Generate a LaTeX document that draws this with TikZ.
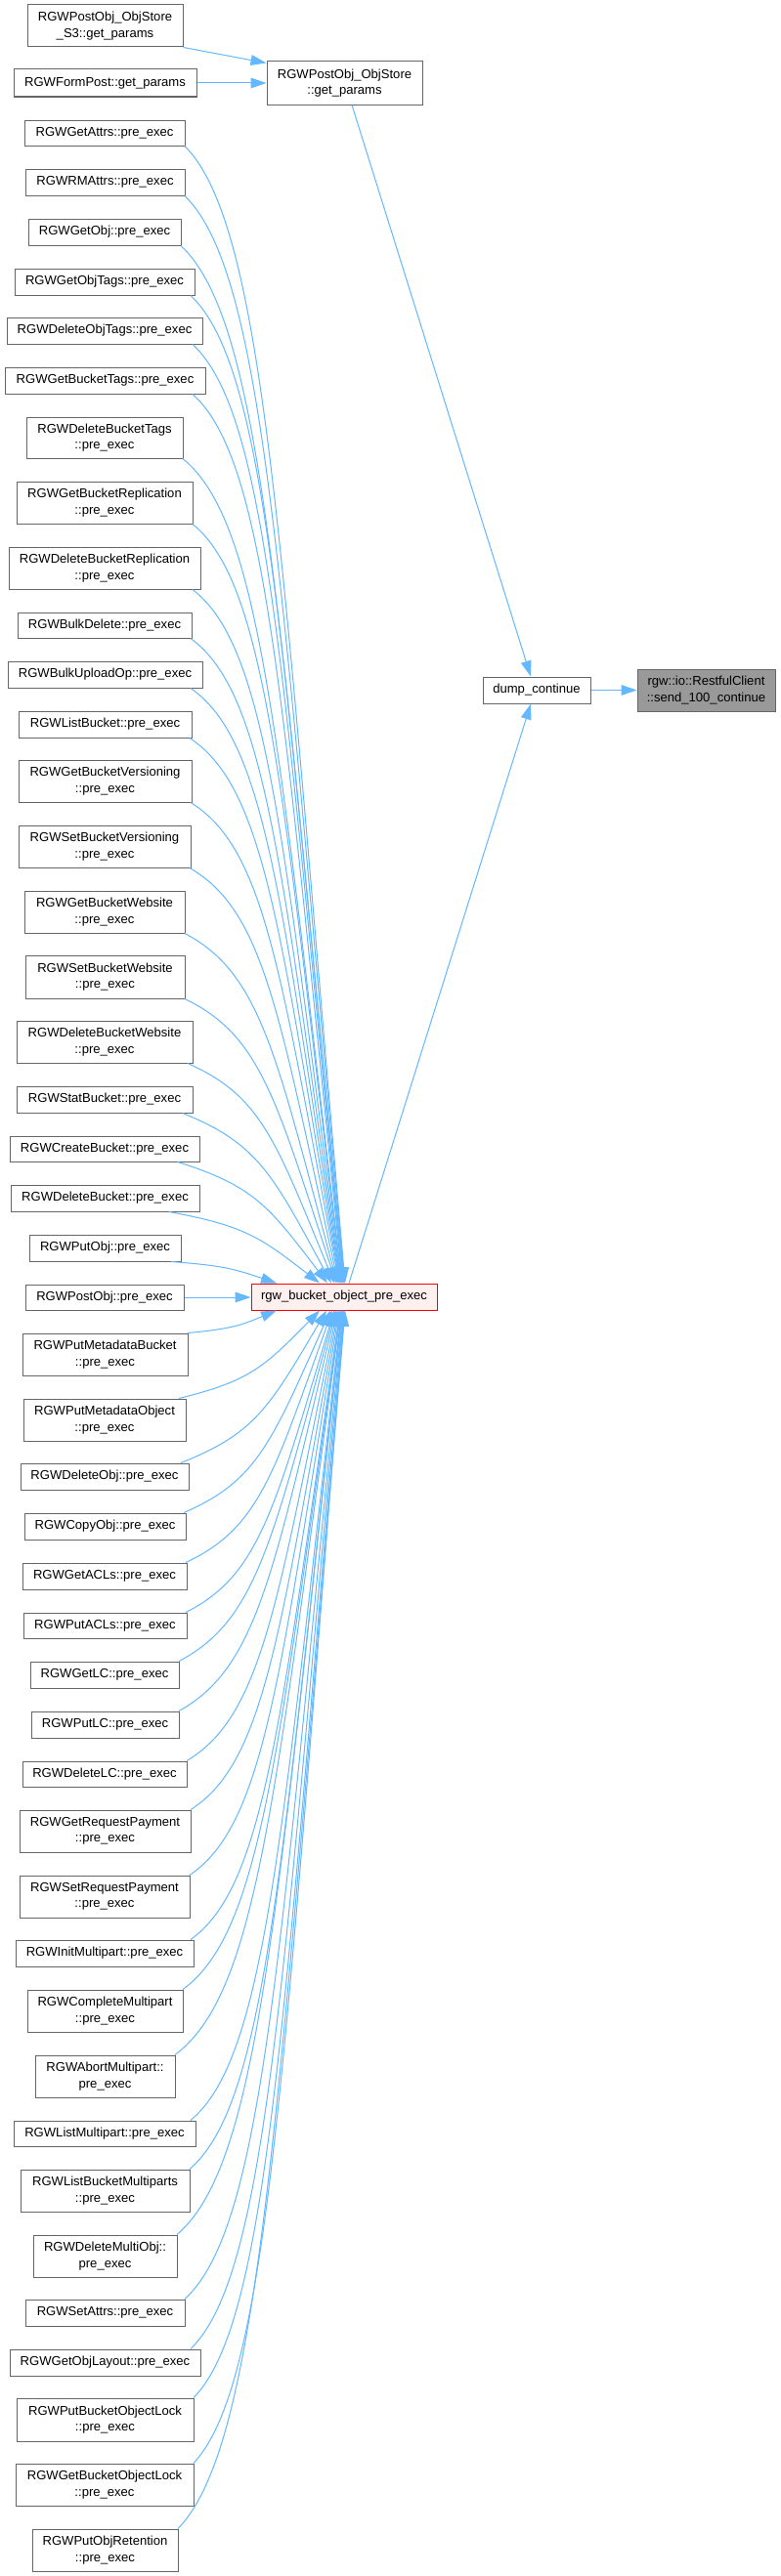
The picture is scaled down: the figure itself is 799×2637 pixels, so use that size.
\documentclass[tikz,border=0pt]{standalone}
\usepackage{fontspec}
\setmainfont{Liberation Sans}
\usetikzlibrary{arrows.meta,calc}
\definecolor{edgec}{HTML}{63B8FF}
\definecolor{boxb}{HTML}{666666}
\definecolor{focusf}{HTML}{999999}
\definecolor{hotf}{HTML}{FFF0F0}
\tikzset{
  box/.style={draw=boxb, fill=white, line width=0.75pt, inner sep=0pt, align=center,
    font=\fontsize{9.8pt}{12.25pt}\selectfont},
  hot/.style={draw=red, fill=hotf},
  focus/.style={fill=focusf},
  edge/.style={draw=edgec, line width=0.75pt, -{Triangle[length=12pt,width=8pt]}}
}
\newcommand{\mk}[7][]{\node[box,#1,minimum width={(#4-#2)*0.75pt},minimum height={(#5-#3)*0.75pt}] (#6) at ({(#2+#4)/2},{(#3+#5)/2}) {#7};}
\begin{document}
\begin{tikzpicture}[x=0.75pt,y=-0.75pt]
\fill[white] (0,0) rectangle (799,2637);
\useasboundingbox (0,0) rectangle (799,2637);
\mk{28}{5}{187}{48}{s3gp}{RGWPostObj\_ObjStore\\\_S3::get\_params}
\mk{14}{71}{201}{99}{fpgp}{RGWFormPost::get\_params}
\mk{273}{63}{432}{107}{osgp}{RGWPostObj\_ObjStore\\::get\_params}
\mk{25}{123}{189}{149}{gattrs}{RGWGetAttrs::pre\_exec}
\mk{26}{173}{189}{200}{rmattrs}{RGWRMAttrs::pre\_exec}
\mk{29}{224}{185}{251}{gobj}{RGWGetObj::pre\_exec}
\mk{15}{275}{199}{302}{gotags}{RGWGetObjTags::pre\_exec}
\mk{7}{325}{207}{352}{dotags}{RGWDeleteObjTags::pre\_exec}
\mk{5}{376}{210}{403}{gbtags}{RGWGetBucketTags::pre\_exec}
\mk{27}{427}{187}{469}{dbtags}{RGWDeleteBucketTags\\::pre\_exec}
\mk{17}{493}{197}{536}{gbrep}{RGWGetBucketReplication\\::pre\_exec}
\mk{9}{560}{205}{603}{dbrep}{RGWDeleteBucketReplication\\::pre\_exec}
\mk{18}{627}{196}{653}{bdel}{RGWBulkDelete::pre\_exec}
\mk{8}{677}{207}{704}{bup}{RGWBulkUploadOp::pre\_exec}
\mk{19}{728}{196}{755}{lbuck}{RGWListBucket::pre\_exec}
\mk{19}{778}{196}{821}{gbver}{RGWGetBucketVersioning\\::pre\_exec}
\mk{19}{845}{195}{888}{sbver}{RGWSetBucketVersioning\\::pre\_exec}
\mk{25}{912}{189}{955}{gbweb}{RGWGetBucketWebsite\\::pre\_exec}
\mk{26}{978}{189}{1022}{sbweb}{RGWSetBucketWebsite\\::pre\_exec}
\mk{17}{1045}{197}{1088}{dbweb}{RGWDeleteBucketWebsite\\::pre\_exec}
\mk{17}{1112}{197}{1139}{stat}{RGWStatBucket::pre\_exec}
\mk{10}{1163}{204}{1189}{create}{RGWCreateBucket::pre\_exec}
\mk{11}{1213}{204}{1240}{dbuck}{RGWDeleteBucket::pre\_exec}
\mk{30}{1264}{185}{1291}{putobj}{RGWPutObj::pre\_exec}
\mk{26}{1315}{188}{1341}{postobj}{RGWPostObj::pre\_exec}
\mk{23}{1365}{192}{1408}{pmb}{RGWPutMetadataBucket\\::pre\_exec}
\mk{24}{1432}{190}{1475}{pmo}{RGWPutMetadataObject\\::pre\_exec}
\mk{21}{1498}{193}{1525}{dobj}{RGWDeleteObj::pre\_exec}
\mk{25}{1549}{190}{1576}{cobj}{RGWCopyObj::pre\_exec}
\mk{23}{1600}{191}{1627}{gacl}{RGWGetACLs::pre\_exec}
\mk{24}{1651}{191}{1677}{pacl}{RGWPutACLs::pre\_exec}
\mk{31}{1701}{183}{1728}{glc}{RGWGetLC::pre\_exec}
\mk{32}{1752}{183}{1779}{plc}{RGWPutLC::pre\_exec}
\mk{23}{1803}{191}{1829}{dlc}{RGWDeleteLC::pre\_exec}
\mk{20}{1853}{195}{1896}{grp}{RGWGetRequestPayment\\::pre\_exec}
\mk{20}{1920}{194}{1963}{srp}{RGWSetRequestPayment\\::pre\_exec}
\mk{16}{1986}{198}{2013}{imp}{RGWInitMultipart::pre\_exec}
\mk{28}{2037}{187}{2080}{cmp}{RGWCompleteMultipart\\::pre\_exec}
\mk{36}{2104}{179}{2147}{amp}{RGWAbortMultipart::\\pre\_exec}
\mk{14}{2171}{200}{2197}{lmp}{RGWListMultipart::pre\_exec}
\mk{21}{2221}{194}{2264}{lbm}{RGWListBucketMultiparts\\::pre\_exec}
\mk{34}{2288}{181}{2331}{dmo}{RGWDeleteMultiObj::\\pre\_exec}
\mk{26}{2354}{189}{2381}{sattr}{RGWSetAttrs::pre\_exec}
\mk{10}{2405}{205}{2432}{gol}{RGWGetObjLayout::pre\_exec}
\mk{17}{2455}{198}{2499}{pbol}{RGWPutBucketObjectLock\\::pre\_exec}
\mk{16}{2522}{198}{2565}{gbol}{RGWGetBucketObjectLock\\::pre\_exec}
\mk{33}{2589}{182}{2632}{por}{RGWPutObjRetention\\::pre\_exec}
\mk[hot]{257}{1314}{447}{1341}{rgw}{rgw\_bucket\_object\_pre\_exec}
\mk{494}{693}{604}{720}{dump}{dump\_continue}
\mk[focus]{652}{685}{793}{728}{send}{rgw::io::RestfulClient\\::send\_100\_continue}
% straight edges
\draw[edge] (s3gp.south east) -- ([yshift=-1.5pt]osgp.north west);
\draw[edge] (fpgp.east) -- (osgp.west |- fpgp.east);
\draw[edge] (osgp.south -| 360,0) -- (dump.north -| 543,0);
\draw[edge] (rgw.north -| 357,0) -- (dump.south -| 543,0);
\draw[edge] (dump.east) -- (send.west);
\draw[edge] (postobj.east) -- (rgw.west |- postobj.east);
% upper callers
\foreach \n/\sx/\yb/\ex in {gattrs/189/149/353, rmattrs/189/200/352.5, gobj/185/251/352,
  gotags/195/302/351.5, dotags/197/352/351, gbtags/197/403/350.5, dbtags/187/469/350,
  gbrep/197/536/349.5, dbrep/197/603/349, bdel/195/653/348.5, bup/195/704/348,
  lbuck/194/755/347.5, gbver/195/821/347, sbver/194/888/346, gbweb/189/955/345,
  sbweb/189/1022/344, dbweb/192/1088/342, stat/187/1139/339, create/182/1189/335,
  dbuck/173/1240/327, putobj/175/1291/283}{
  \pgfmathsetmacro\dx{\ex-\sx}
  \pgfmathsetmacro\dy{1314-\yb}
  \pgfmathsetmacro\ca{\sx+0.5*\dx}
  \pgfmathsetmacro\cb{\yb+0.05*\dy+0.15*min(\dx,\dy)}
  \pgfmathsetmacro\cc{\sx+0.6*\dx}
  \pgfmathsetmacro\cd{\yb+0.35*\dy}
  \draw[edge] (\n.south -| \sx,0) .. controls (\ca,\cb) and (\cc,\cd) .. (rgw.north -| \ex,0);
}
% lower callers
\foreach \n/\sx/\yt/\ex in {pmb/192/1365/283, pmo/183/1432/327, dobj/185/1498/334,
  cobj/188/1549/338, gacl/190/1600/340, pacl/190/1651/342, glc/183/1701/343,
  plc/183/1752/344, dlc/191/1803/345, grp/195/1853/346, srp/194/1920/347,
  imp/195/1986/348, cmp/187/2037/348.5, amp/179/2104/349, lmp/195/2171/349.5,
  lbm/194/2221/350, dmo/181/2288/350.5, sattr/189/2354/351, gol/195/2405/351.5,
  pbol/198/2455/352, gbol/198/2522/352.5, por/182/2589/353}{
  \pgfmathsetmacro\dx{\ex-\sx}
  \pgfmathsetmacro\dy{\yt-1341}
  \pgfmathsetmacro\ca{\sx+0.5*\dx}
  \pgfmathsetmacro\cb{\yt-0.05*\dy-0.15*min(\dx,\dy)}
  \pgfmathsetmacro\cc{\sx+0.6*\dx}
  \pgfmathsetmacro\cd{\yt-0.35*\dy}
  \draw[edge] (\n.north -| \sx,0) .. controls (\ca,\cb) and (\cc,\cd) .. (rgw.south -| \ex,0);
}
\end{tikzpicture}
\end{document}
